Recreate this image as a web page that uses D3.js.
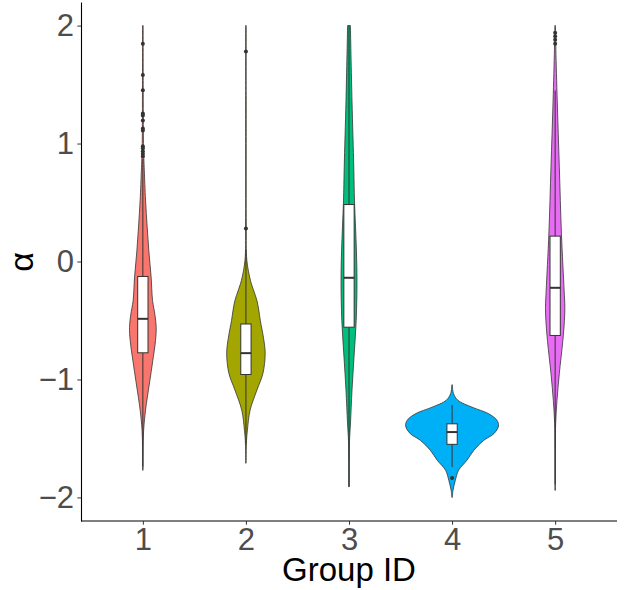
<!DOCTYPE html>
<html>
<head>
<meta charset="utf-8">
<script src="https://cdn.jsdelivr.net/npm/d3@7"></script>
<style>
  body { margin: 0; background: #fff; }
  svg { display: block; font-family: "Liberation Sans", Arial, sans-serif; }
</style>
</head>
<body>
<svg id="chart" width="625" height="590" viewBox="0 0 625 590"></svg>
<script>
// groups + ggplot default hue palette
const groups = ["1", "2", "3", "4", "5"];
const fills = ["#F8766D", "#A3A500", "#00BF7D", "#00B0F6", "#E76BF3"];
const yTicks = [-2, -1, 0, 1, 2];

// violin outlines: [alpha, relative density]
const violin1 = [[2.0, 0.006], [1.5, 0.008], [1.0, 0.013], [0.87, 0.022], [0.77, 0.032], [0.52, 0.058],
  [0.3, 0.092], [0.09, 0.129], [-0.13, 0.178], [-0.33, 0.209], [-0.45, 0.26], [-0.56, 0.288],
  [-0.67, 0.273], [-0.85, 0.211], [-1.01, 0.151], [-1.15, 0.097], [-1.26, 0.058], [-1.43, 0.017],
  [-1.6, 0.006], [-1.77, 0.004]];
const violin2 = [[2.0, 0.006], [1.0, 0.006], [0.3, 0.008], [0.01, 0.02], [-0.16, 0.097], [-0.25, 0.17],
  [-0.33, 0.237], [-0.42, 0.28], [-0.5, 0.31], [-0.65, 0.38], [-0.78, 0.415], [-0.95, 0.366],
  [-1.09, 0.237], [-1.26, 0.09], [-1.43, 0.032], [-1.52, 0.013], [-1.71, 0.004]];
const violin3 = [[2.0, 0.03], [1.36, 0.065], [0.8, 0.103], [0.52, 0.118], [0.3, 0.14], [0.09, 0.16],
  [-0.16, 0.172], [-0.5, 0.155], [-0.81, 0.108], [-1.09, 0.065], [-1.37, 0.032], [-1.52, 0.011],
  [-1.7, 0.005], [-1.91, 0.004]];
const violin4 = [[-1.045, 0.004], [-1.121, 0.032], [-1.178, 0.13], [-1.235, 0.43], [-1.291, 0.79],
  [-1.347, 0.97], [-1.396, 1.0], [-1.46, 0.9], [-1.517, 0.68], [-1.6, 0.47], [-1.685, 0.32],
  [-1.77, 0.14], [-1.856, 0.07], [-1.94, 0.02], [-2.0, 0.004]];
const violin5 = [[2.0, 0.006], [1.8, 0.015], [1.36, 0.045], [0.8, 0.09], [0.24, 0.135], [-0.25, 0.194],
  [-0.39, 0.209], [-0.5, 0.2], [-0.67, 0.166], [-0.95, 0.09], [-1.18, 0.039], [-1.37, 0.011],
  [-1.6, 0.005], [-1.94, 0.004]];
const violins = [violin1, violin2, violin3, violin4, violin5];

// boxplot stats: [lower whisker, q1, median, q3, upper whisker]
const boxStats = [
  [-1.74, -0.774, -0.486, -0.127, 0.87],
  [-1.55, -0.958, -0.777, -0.53, 0.1],
  [-1.91, -0.557, -0.138, 0.483, 2.0],
  [-1.743, -1.55, -1.446, -1.376, -1.215],
  [-1.89, -0.627, -0.223, 0.215, 1.45]
];
const outliers = [
  [1.845, 1.582, 1.452, 1.254, 1.237, 1.195, 1.127, 1.110, 0.977, 0.960, 0.935, 0.913, 0.893],
  [1.78, 0.28],
  [],
  [-1.836],
  [1.94, 1.91, 1.88, 1.845]
];

const svg = d3.select("#chart");
const margin = {top: 2, right: 8, bottom: 69, left: 81};
const W = 625, H = 590;

const x = d3.scalePoint().domain(groups)
  .range([margin.left, W - margin.right]).padding(0.6);
const step = x.step();
const y = d3.scaleLinear().domain([-2.2, 2.2]).range([H - margin.bottom, margin.top]);
const w = d3.scaleLinear().domain([0, 1]).range([0, 0.45 * step]);
const boxHalf = 0.05 * step;
const ink = "#333333";

// violins
groups.forEach((g, i) => {
  const cx = x(g);
  const area = d3.area()
    .y(d => y(d[0]))
    .x0(d => cx - w(d[1]))
    .x1(d => cx + w(d[1]))
    .curve(d3.curveCatmullRom);
  svg.append("path")
    .attr("d", area(violins[i]))
    .attr("fill", fills[i])
    .attr("stroke", ink)
    .attr("stroke-width", 0.8);
});

// boxplots
groups.forEach((g, i) => {
  const cx = x(g);
  const [lo, q1, med, q3, hi] = boxStats[i];
  const b = svg.append("g");
  b.append("line").attr("x1", cx).attr("x2", cx).attr("y1", y(q3)).attr("y2", y(hi))
    .attr("stroke", ink).attr("stroke-width", 1);
  b.append("line").attr("x1", cx).attr("x2", cx).attr("y1", y(q1)).attr("y2", y(lo))
    .attr("stroke", ink).attr("stroke-width", 1);
  b.append("rect")
    .attr("x", cx - boxHalf).attr("width", 2 * boxHalf)
    .attr("y", y(q3)).attr("height", y(q1) - y(q3))
    .attr("fill", "#fff").attr("stroke", ink).attr("stroke-width", 1);
  b.append("line").attr("x1", cx - boxHalf).attr("x2", cx + boxHalf)
    .attr("y1", y(med)).attr("y2", y(med))
    .attr("stroke", ink).attr("stroke-width", 2);
  b.selectAll("circle").data(outliers[i]).enter().append("circle")
    .attr("cx", cx).attr("cy", d => y(d)).attr("r", 2)
    .attr("fill", ink);
});

// axes (theme_classic)
const gx = svg.append("g")
  .attr("transform", `translate(0,${H - margin.bottom})`)
  .call(d3.axisBottom(x).tickSize(3.7).tickPadding(3.2).tickSizeOuter(0));
const gy = svg.append("g")
  .attr("transform", `translate(${margin.left},0)`)
  .call(d3.axisLeft(y).tickValues(yTicks).tickFormat(d3.format("d"))
    .tickSize(3.7).tickPadding(3.2).tickSizeOuter(0));

[gx, gy].forEach(a => {
  a.select(".domain").attr("stroke", "#000").attr("stroke-width", 1.1);
  a.selectAll(".tick line").attr("stroke", "#333").attr("stroke-width", 1);
  a.selectAll(".tick text").attr("fill", "#4D4D4D").attr("font-size", "31px")
    .attr("font-family", "'Liberation Sans', Arial, sans-serif");
});
gx.select(".domain").attr("d", `M${margin.left},0H${W - margin.right}`);

svg.append("text")
  .attr("x", (margin.left + W - margin.right) / 2)
  .attr("y", 581)
  .attr("text-anchor", "middle")
  .attr("font-size", "33px")
  .attr("fill", "#000")
  .text("Group ID");

svg.append("text")
  .attr("transform", "translate(33,262) rotate(-90)")
  .attr("text-anchor", "middle")
  .attr("font-size", "34px")
  .attr("fill", "#000")
  .text("α");
</script>
</body>
</html>
